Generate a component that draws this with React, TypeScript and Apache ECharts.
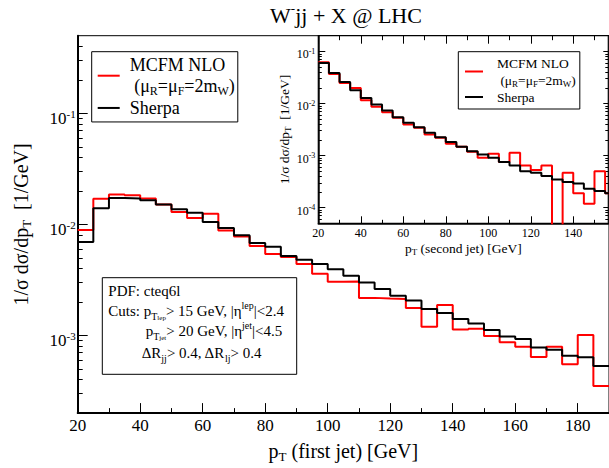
import * as echarts from 'echarts';
import { useEffect, useRef } from 'react';

// bin lower edges (5 GeV bins) and normalised distributions
const mainBins = [
  20, 25, 30, 35, 40, 45, 50, 55, 60, 65, 70, 75, 80, 85, 90, 95, 100,
  105, 110, 115, 120, 125, 130, 135, 140, 145, 150, 155, 160, 165, 170,
  175, 180, 185,
];
const mainMcfm = [
  0.0089, 0.017, 0.0186, 0.0183, 0.0171, 0.0151, 0.0129, 0.0114, 0.0125,
  0.0088, 0.0078, 0.0064, 0.0054, 0.0051, 0.0044, 0.0036, 0.00304,
  0.00306, 0.00218, 0.00215, 0.00213, 0.00177, 0.0012, 0.00188, 0.00113,
  0.00115, 0.00099, 0.00087, 0.00079, 0.00064, 0.00079, 0.00055, 0.00101,
  0.00035,
];
const mainSherpa = [
  0.00695, 0.014, 0.0173, 0.0171, 0.0165, 0.0151, 0.0137, 0.0127, 0.0105,
  0.0093, 0.008, 0.0068, 0.0063, 0.0052, 0.0048, 0.0044, 0.00395,
  0.00344, 0.003, 0.00262, 0.00228, 0.00206, 0.00173, 0.00159, 0.00141,
  0.00128, 0.00112, 0.00098, 0.00093, 0.00078, 0.000745, 0.000658,
  0.000635, 0.000532,
];

const insetBins = [
  20, 25, 30, 35, 40, 45, 50, 55, 60, 65, 70, 75, 80, 85, 90, 95, 100,
  105, 110, 115, 120, 125, 130, 135, 140, 145, 150, 155,
];
const insetMcfm = [
  0.0615, 0.0369, 0.0248, 0.0199, 0.0115, 0.00861, 0.00678, 0.0053,
  0.00394, 0.00341, 0.00254, 0.00219, 0.00168, 0.00148, 0.00118, 0.000907,
  0.00108, 0.000748, 0.00113, 0.000646, 0.000525, 0.000646, 0, 0.000468,
  0.000188, 0.000119, 0.000502, 0.000188,
];
const insetSherpa = [
  0.06, 0.0386, 0.0259, 0.0179, 0.0128, 0.00953, 0.00731, 0.00544,
  0.00425, 0.0035, 0.00273, 0.00225, 0.00181, 0.00148, 0.00121, 0.00105,
  0.000907, 0.000748, 0.000646, 0.000502, 0.000468, 0.000403, 0.000348,
  0.000309, 0.000292, 0.000231, 0.000208, 0.000188,
];

const mainXTicks = [20, 40, 60, 80, 100, 120, 140, 160, 180];
const mainXMinor = [30, 50, 70, 90, 110, 130, 150, 170];
const insetXTicks = [20, 40, 60, 80, 100, 120, 140];
const insetXMinor = [30, 50, 70, 90, 110, 130, 150];

const BIN = 5;
const FONT = 'Liberation Serif';
const ZERO_FLOOR = 1e-9; // empty bins drop below the log axis

const MAIN_Y = [2e-4, 0.5];
const INSET_Y = [5e-5, 0.2];

function steps(lows: number[], vals: number[]) {
  const pts = lows.map((x, i) => [x, vals[i] > 0 ? vals[i] : ZERO_FLOOR]);
  pts.push([lows[lows.length - 1] + BIN, pts[pts.length - 1][1]]);
  return pts;
}

// minor ticks of a log axis (2..9 x 10^n), in log10 units
function logMinor(min: number, max: number) {
  const out: number[] = [];
  for (let e = Math.floor(Math.log10(min)); e <= Math.ceil(Math.log10(max)); e++) {
    for (let k = 2; k <= 9; k++) {
      const v = k * Math.pow(10, e);
      if (v > min && v < max) out.push(Math.log10(v));
    }
  }
  return out;
}

const black = { color: '#000', width: 1 };

function xAxis(grid: number, max: number, ticks: number[], len: number, position: string, extra: any = {}) {
  return {
    gridIndex: grid,
    type: 'value',
    min: 20,
    max,
    position,
    axisLine: { show: false },
    axisTick: { show: true, inside: true, length: len, customValues: ticks, lineStyle: black },
    axisLabel: { show: false },
    splitLine: { show: false },
    ...extra,
  };
}

function logTicksAxis(grid: number, range: number[], len: number, position: string, extra: any = {}) {
  return {
    gridIndex: grid,
    type: 'log',
    logBase: 10,
    min: range[0],
    max: range[1],
    position,
    axisLine: { show: false },
    axisTick: { show: true, inside: true, length: len, lineStyle: black },
    axisLabel: { show: false },
    splitLine: { show: false },
    ...extra,
  };
}

function minorYAxis(grid: number, range: number[], len: number, position: string) {
  return {
    gridIndex: grid,
    type: 'value',
    min: Math.log10(range[0]),
    max: Math.log10(range[1]),
    position,
    axisLine: { show: false },
    axisTick: { show: true, inside: true, length: len, customValues: logMinor(range[0], range[1]), lineStyle: black },
    axisLabel: { show: false },
    splitLine: { show: false },
  };
}

const subStyle = (size: number) => ({ fontSize: size, lineHeight: size, verticalAlign: 'bottom', fontFamily: FONT, color: '#000' });
const supStyle = (size: number) => ({ fontSize: size, lineHeight: size, verticalAlign: 'top', fontFamily: FONT, color: '#000' });

const powLabel = (v: number) => `{b|10}{s|${Math.round(Math.log10(v))}}`;

function label(text: string, x: number, y: number, size: number) {
  return {
    type: 'text',
    x,
    y,
    silent: true,
    style: {
      text,
      fill: '#000',
      fontFamily: FONT,
      fontSize: size,
      lineHeight: size + 6,
      align: 'left',
      verticalAlign: 'middle',
      textAlign: 'left',
      textVerticalAlign: 'middle',
      rich: { sub: subStyle(10), sup: supStyle(10), tiny: subStyle(7) },
    },
  };
}

export default function App() {
  const ref = useRef<HTMLDivElement | null>(null);

  useEffect(() => {
    if (!ref.current) return;
    const chart = echarts.init(ref.current, null, { renderer: 'svg' });
    const mcfmLegend = (size: number) => (name: string) =>
      name === 'MCFM NLO' ? 'MCFM NLO\n (μ{s|R}=μ{s|F}=2m{s|W})' : name;

    chart.setOption({
      animation: false,
      textStyle: { fontFamily: FONT, color: '#000' },
      grid: [
        { left: 77.7, top: 35.7, right: -5.1, bottom: 54.3, show: true, borderColor: '#000', borderWidth: 1, backgroundColor: 'transparent' },
        { left: 318.3, top: 35.7, right: 0.7, height: 187.6, show: true, borderColor: '#000', borderWidth: 1.2, backgroundColor: '#fff' },
      ],
      xAxis: [
        xAxis(0, 190, mainXTicks, 10, 'bottom', {
          axisLine: { show: true, onZero: false, lineStyle: { color: '#000', width: 2 } },
          axisLabel: { show: true, customValues: mainXTicks, fontSize: 17, fontFamily: FONT, color: '#000', margin: 4 },
          name: 'p{sub|T} (first jet) [GeV]',
          nameLocation: 'middle',
          nameGap: 24,
          nameTextStyle: { fontSize: 20, fontFamily: FONT, color: '#000', lineHeight: 24, rich: { sub: subStyle(13) } },
        }),
        xAxis(0, 190, mainXMinor, 5, 'bottom'),
        xAxis(1, 156.5, insetXTicks, 7, 'bottom', {
          axisLine: { show: true, onZero: false, lineStyle: { color: '#000', width: 1.5 } },
          axisLabel: { show: true, customValues: insetXTicks, fontSize: 12, fontFamily: FONT, color: '#000', margin: 4 },
          name: 'p{sub|T} (second jet) [GeV]',
          nameLocation: 'middle',
          nameGap: 17,
          nameTextStyle: { fontSize: 13.5, fontFamily: FONT, color: '#000', lineHeight: 16, rich: { sub: subStyle(9) } },
        }),
        xAxis(1, 156.5, insetXMinor, 3.5, 'bottom'),
        xAxis(1, 156.5, insetXTicks, 8, 'top'),
        xAxis(1, 156.5, insetXMinor, 4.5, 'top'),
      ],
      yAxis: [
        logTicksAxis(0, MAIN_Y, 10, 'left', {
          axisLine: { show: true, onZero: false, lineStyle: { color: '#000', width: 2 } },
          axisLabel: {
            show: true,
            showMinLabel: false,
            showMaxLabel: false,
            margin: 2,
            padding: [10, 0, 0, 0],
            formatter: powLabel,
            rich: {
              b: { fontSize: 17, lineHeight: 20, fontFamily: FONT, color: '#000' },
              s: supStyle(11),
            },
          },
          name: '1/σ dσ/dp{sub|T}  [1/GeV]',
          nameLocation: 'middle',
          nameGap: 44.7,
          nameTextStyle: { fontSize: 20, fontFamily: FONT, color: '#000', lineHeight: 24, rich: { sub: subStyle(13) } },
        }),
        minorYAxis(0, MAIN_Y, 5, 'left'),
        logTicksAxis(1, INSET_Y, 7, 'left', {
          axisLine: { show: true, onZero: false, lineStyle: { color: '#000', width: 1.5 } },
          axisLabel: {
            show: true,
            showMinLabel: false,
            showMaxLabel: false,
            margin: 3,
            padding: [6, 0, 0, 0],
            formatter: powLabel,
            rich: {
              b: { fontSize: 12, lineHeight: 14, fontFamily: FONT, color: '#000' },
              s: supStyle(8),
            },
          },
          name: '1/σ dσ/dp{sub|T}  [1/GeV]',
          nameLocation: 'middle',
          nameGap: 20.8,
          nameTextStyle: { fontSize: 13.5, fontFamily: FONT, color: '#000', lineHeight: 16, rich: { sub: subStyle(9) } },
        }),
        minorYAxis(1, INSET_Y, 3.5, 'left'),
        logTicksAxis(1, INSET_Y, 5, 'right'),
        minorYAxis(1, INSET_Y, 3, 'right'),
      ],
      legend: [
        {
          data: ['MCFM NLO', 'Sherpa'],
          orient: 'vertical',
          left: 91.7,
          top: 51.7,
          padding: [2.5, 3, 3.25, 6],
          itemGap: 0,
          itemWidth: 22,
          itemHeight: 2,
          icon: 'rect',
          selectedMode: false,
          borderColor: '#000',
          borderWidth: 1,
          backgroundColor: '#fff',
          formatter: mcfmLegend(18),
          textStyle: {
            fontFamily: FONT,
            fontSize: 18,
            color: '#000',
            lineHeight: 21.5,
            padding: [0, 0, 0, 5],
            rich: { s: subStyle(12) },
          },
        },
        {
          data: ['MCFM NLO', 'Sherpa'],
          orient: 'vertical',
          left: 458.3,
          top: 51.7,
          padding: [2.8, 4, 3.5, 6.7],
          itemGap: 0,
          itemWidth: 18,
          itemHeight: 2,
          icon: 'rect',
          selectedMode: false,
          borderColor: '#000',
          borderWidth: 1,
          backgroundColor: '#fff',
          formatter: mcfmLegend(13.5),
          textStyle: {
            fontFamily: FONT,
            fontSize: 13.5,
            color: '#000',
            lineHeight: 17,
            padding: [0, 0, 0, 9],
            rich: { s: subStyle(9) },
          },
        },
      ],
      graphic: [
        {
          type: 'text',
          x: 346,
          y: 15,
          silent: true,
          style: {
            text: 'W{sup|-}jj + X @ LHC',
            fill: '#000',
            fontFamily: FONT,
            fontSize: 22,
            lineHeight: 26,
            align: 'center',
            verticalAlign: 'middle',
            textAlign: 'center',
            textVerticalAlign: 'middle',
            rich: { sup: supStyle(13) },
          },
        },
        {
          type: 'rect',
          silent: true,
          shape: { x: 102.3, y: 277.7, width: 194.4, height: 96.6 },
          style: { fill: '#fff', stroke: '#000', lineWidth: 1 },
        },
        label('PDF: cteq6l', 108.3, 291, 15),
        label('Cuts: p{sub|T}{tiny|lep}> 15 GeV, |η{sup|lep}|<2.4', 108.3, 310.5, 15),
        label('p{sub|T}{tiny|jet}> 20 GeV, |η{sup|jet}|<4.5', 145.7, 330.5, 15),
        label('ΔR{sub|jj}> 0.4, ΔR{sub|lj}> 0.4', 141.7, 353, 15),
      ],
      series: [
        {
          name: 'MCFM NLO', type: 'line', step: 'end', xAxisIndex: 0, yAxisIndex: 0,
          data: steps(mainBins, mainMcfm), showSymbol: false, symbol: 'none', silent: true,
          color: '#ff0000', lineStyle: { color: '#ff0000', width: 2 },
        },
        {
          name: 'Sherpa', type: 'line', step: 'end', xAxisIndex: 0, yAxisIndex: 0,
          data: steps(mainBins, mainSherpa), showSymbol: false, symbol: 'none', silent: true,
          color: '#000', lineStyle: { color: '#000', width: 2 },
        },
        {
          name: 'MCFM NLO', type: 'line', step: 'end', xAxisIndex: 2, yAxisIndex: 2,
          data: steps(insetBins, insetMcfm), showSymbol: false, symbol: 'none', silent: true,
          color: '#ff0000', lineStyle: { color: '#ff0000', width: 2 },
        },
        {
          name: 'Sherpa', type: 'line', step: 'end', xAxisIndex: 2, yAxisIndex: 2,
          data: steps(insetBins, insetSherpa), showSymbol: false, symbol: 'none', silent: true,
          color: '#000', lineStyle: { color: '#000', width: 2 },
        },
      ],
    } as echarts.EChartsOption);

    return () => {
      chart.dispose();
    };
  }, []);

  return (
    <div
      ref={ref}
      style={{ position: 'absolute', left: 0, top: 0, width: 609, height: 468, background: '#fff' }}
    />
  );
}
